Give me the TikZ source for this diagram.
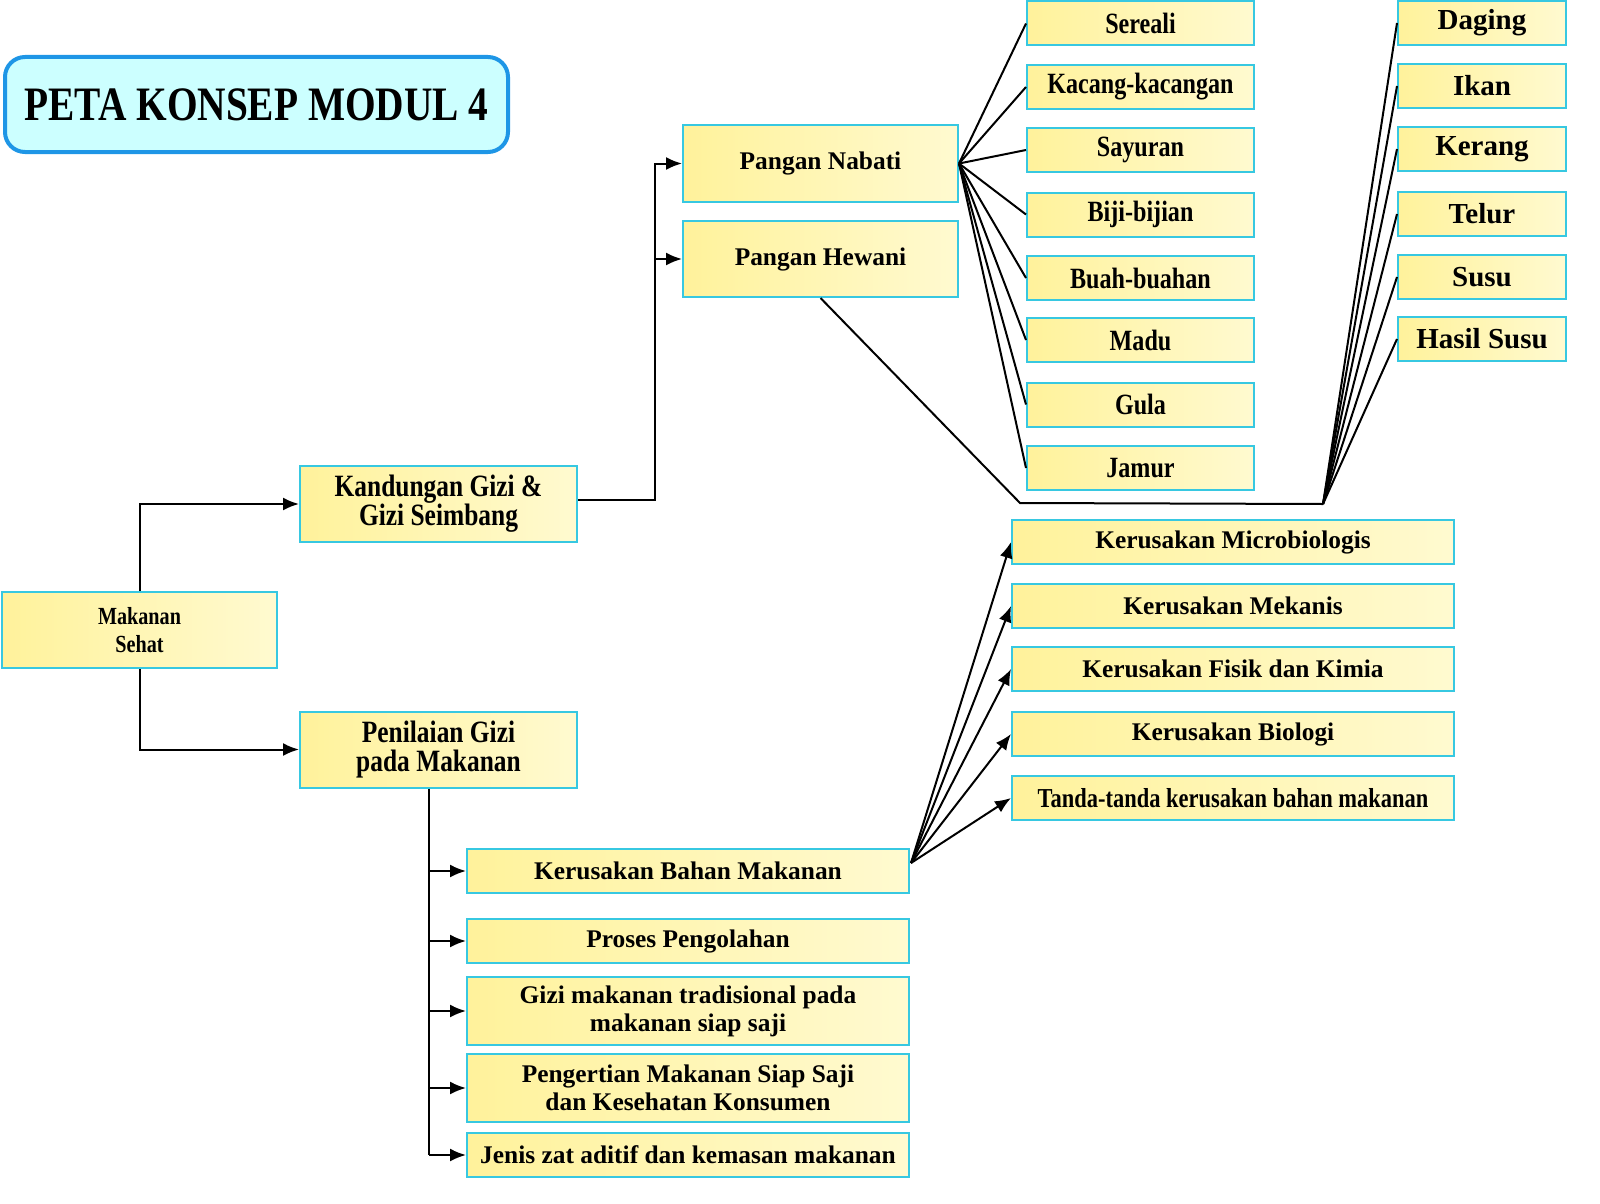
\documentclass[tikz,border=0pt]{standalone}
\usepackage{fontspec}
\setmainfont{Liberation Serif}
\newfontfamily\sempit{Liberation Serif}[FakeStretch=0.82]
\usetikzlibrary{arrows.meta}
\definecolor{tepi}{RGB}{55,200,225}
\definecolor{kuning}{RGB}{255,242,155}
\definecolor{krem}{RGB}{255,250,208}
\definecolor{isijudul}{RGB}{204,255,255}
\definecolor{tepijudul}{RGB}{30,150,230}

\begin{document}
\begin{tikzpicture}[x=0.5pt,y=-0.5pt,
  kotak/.style={draw=tepi,line width=1pt,left color=kuning,right color=krem,
    inner sep=0pt,align=center,minimum height=22pt},
  biasa/.style={font=\bfseries\fontsize{#1}{14}\selectfont},
  biasa/.default=12.7,
  ramping/.style={font=\sempit\bfseries\fontsize{#1}{14.5}\selectfont},
  garis/.style={line width=1pt},
  panah/.style={line width=1pt,-{Latex[length=8pt,width=6.5pt]}}]
\useasboundingbox (0,0) rectangle (1600,1204);

\node[draw=tepijudul,line width=2pt,fill=isijudul,rounded corners=10pt,
  minimum width=251.5pt,minimum height=47.5pt,
  font=\sempit\bfseries\fontsize{24}{28}\selectfont] (judul) at (256.5,104.5) {PETA KONSEP MODUL 4};

\node[kotak,ramping=12.3,minimum width=137.5pt,minimum height=38pt,font=\sempit\bfseries\fontsize{12.3}{14}\selectfont] (mks) at (139.5,630) {Makanan\\Sehat};
\node[kotak,ramping=15.5,minimum width=138.5pt,minimum height=38pt] (kgs) at (438.5,504) {Kandungan Gizi \&\\Gizi Seimbang};
\node[kotak,ramping=15.5,minimum width=138.5pt,minimum height=38pt] (pgm) at (438.5,749.5) {Penilaian Gizi\\pada Makanan};
\node[kotak,biasa=12.7,minimum width=137.5pt,minimum height=38.5pt] (nab) at (820.5,163.5) {Pangan Nabati};
\node[kotak,biasa=12.7,minimum width=137.5pt,minimum height=38pt] (hew) at (820.5,259) {Pangan Hewani};

\foreach \nama/\teks/\y in {sereali/Sereali/23.5,kacang/Kacang-kacangan/87,sayur/Sayuran/150,
  biji/Biji-bijian/214.5,buah/Buah-buahan/278,madu/Madu/340,gula/Gula/404.5,jamur/Jamur/468}
  \node[kotak,ramping=14.7,minimum width=113.5pt] (\nama) at (1140.5,\y) {\teks};

\foreach \nama/\teks/\y in {daging/Daging/23,ikan/Ikan/86,kerang/Kerang/149,
  telur/Telur/214,susu/Susu/277,hasil/Hasil Susu/339}
  \node[kotak,biasa=14.5,minimum width=84pt] (\nama) at (1482,\y) {\teks};

\foreach \nama/\teks/\y in {mikro/Kerusakan Microbiologis/542,mekanis/Kerusakan Mekanis/606,
  fisik/Kerusakan Fisik dan Kimia/669,biologi/Kerusakan Biologi/734}
  \node[kotak,biasa,minimum width=221pt] (\nama) at (1233,\y) {\teks};
\node[kotak,ramping=13.7,minimum width=221pt] (tanda) at (1233,798) {Tanda-tanda kerusakan bahan makanan};

\node[kotak,biasa,minimum width=221pt] (kbm) at (688,871) {Kerusakan Bahan Makanan};
\node[kotak,biasa,minimum width=221pt] (proses) at (688,941) {Proses Pengolahan};
\node[kotak,biasa,minimum width=221pt,minimum height=34pt] (tradisi) at (688,1011) {Gizi makanan tradisional pada\\makanan siap saji};
\node[kotak,biasa,minimum width=221pt,minimum height=34pt] (saji) at (688,1088) {Pengertian Makanan Siap Saji\\dan Kesehatan Konsumen};
\node[kotak,biasa,minimum width=221pt] (aditif) at (688,1155) {Jenis zat aditif dan kemasan makanan};

\coordinate (cabang) at (655,500);
\coordinate (sudut) at (1020,503);
\coordinate (simpul) at (1323,504);
\coordinate (tulang) at (429,1155);
\coordinate (pangkal) at (911,863);

\draw[panah] (mks.north) |- (kgs.west);
\draw[panah] (mks.south) |- (pgm.west);
\draw[panah] (kgs.east |- cabang) -- (cabang) |- (nab.west);
\draw[panah] (cabang |- hew.west) -- (hew.west);

\foreach \nama in {sereali,kacang,sayur,biji,buah,madu,gula,jamur}
  \draw[garis] (nab.east) -- (\nama.west);

\draw[garis] (hew.south) -- (sudut) -- (simpul);
\foreach \nama in {daging,ikan,kerang,telur,susu,hasil}
  \draw[garis] (simpul) -- (\nama.west);

\draw[garis] (pgm.south -| tulang) -- (tulang);
\foreach \nama in {kbm,proses,tradisi,saji,aditif}
  \draw[panah] (tulang |- \nama.west) -- (\nama.west);

\foreach \nama in {mikro,mekanis,fisik,biologi,tanda}
  \draw[panah] (pangkal) -- (\nama.west);
\end{tikzpicture}
\end{document}
